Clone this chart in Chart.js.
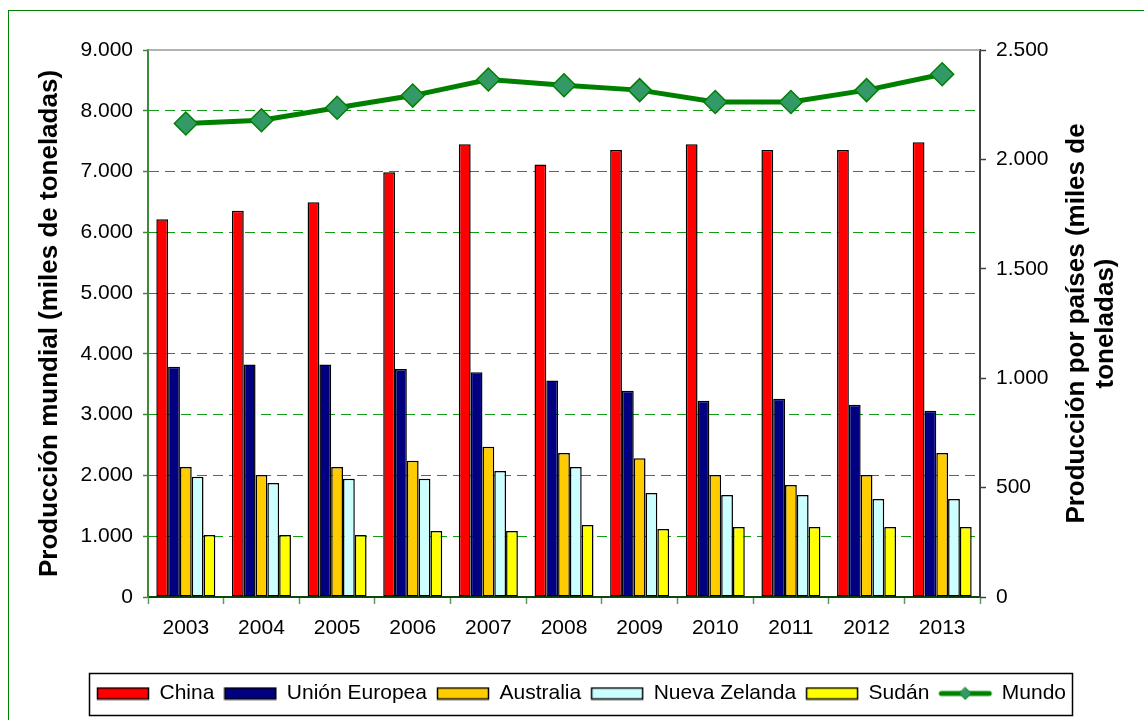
<!DOCTYPE html>
<html>
<head>
<meta charset="utf-8">
<script src="https://cdn.jsdelivr.net/npm/chart.js@4.4.1/dist/chart.umd.min.js"></script>
<style>
  body { margin: 0; background: #fff; }
  #chart { display: block; }
</style>
</head>
<body>
<canvas id="chart" width="1144" height="720"></canvas>
<script>
const years = ['2003', '2004', '2005', '2006', '2007', '2008', '2009', '2010', '2011', '2012', '2013'];
const china = [1727, 1765, 1804, 1941, 2069, 1977, 2043, 2069, 2043, 2043, 2078];
const unionEuropea = [1052, 1063, 1063, 1042, 1027, 990, 943, 897, 906, 879, 851];
const australia = [594, 558, 594, 623, 687, 658, 634, 558, 512, 558, 658];
const nuevaZelanda = [550, 521, 541, 541, 576, 594, 475, 466, 466, 448, 448];
const sudan = [283, 283, 283, 302, 302, 329, 311, 320, 320, 320, 320];
const mundo = [7790, 7845, 8050, 8250, 8515, 8420, 8340, 8145, 8145, 8340, 8600];

const FONT = 'Arial, "Liberation Sans", sans-serif';
const PAD_BOTTOM = 6;

function formatMiles(v) {
  return String(v).replace(/\B(?=(\d{3})+(?!\d))/g, '.');
}

function swatch(fill) {
  const c = document.createElement('canvas');
  c.width = 54;
  c.height = 14;
  const ctx = c.getContext('2d');
  ctx.fillStyle = fill;
  ctx.fillRect(1, 1, 52, 12);
  ctx.strokeStyle = '#000';
  ctx.lineWidth = 1.5;
  ctx.strokeRect(1.5, 1.5, 51, 11);
  return c;
}

function lineIcon() {
  const c = document.createElement('canvas');
  c.width = 56;
  c.height = 16;
  const ctx = c.getContext('2d');
  ctx.strokeStyle = '#008000';
  ctx.lineWidth = 5;
  ctx.lineCap = 'round';
  ctx.beginPath();
  ctx.moveTo(4, 8);
  ctx.lineTo(52, 8);
  ctx.stroke();
  ctx.beginPath();
  ctx.moveTo(28, 2);
  ctx.lineTo(34, 8);
  ctx.lineTo(28, 14);
  ctx.lineTo(22, 8);
  ctx.closePath();
  ctx.fillStyle = '#339966';
  ctx.fill();
  ctx.lineWidth = 1;
  ctx.stroke();
  return c;
}

const barColors = ['#ff0000', '#000080', '#ffcc00', '#ccffff', '#ffff00'];
const legendIcons = barColors.map(swatch).concat([lineIcon()]);

function barSet(label, data, color) {
  return {
    label: label,
    data: data,
    backgroundColor: color,
    borderColor: '#000',
    borderWidth: 1.5,
    borderSkipped: false,
    yAxisID: 'y1',
    order: 1,
    barPercentage: 1,
    categoryPercentage: 0.78,
  };
}

const decorations = {
  id: 'decorations',
  beforeDraw(chart) {
    const ctx = chart.ctx;
    ctx.save();
    ctx.fillStyle = '#fff';
    ctx.fillRect(0, 0, chart.width, chart.height);
    ctx.strokeStyle = '#008000';
    ctx.lineWidth = 1;
    ctx.strokeRect(8.5, 10.5, chart.width + 20, chart.height + 20);
    ctx.restore();
  },
  afterDraw(chart) {
    const ctx = chart.ctx;
    const area = chart.chartArea;
    ctx.save();
    // borde superior del área de trazado
    ctx.strokeStyle = '#999';
    ctx.lineWidth = 1.5;
    ctx.beginPath();
    ctx.moveTo(area.left, area.top);
    ctx.lineTo(area.right, area.top);
    ctx.stroke();

    const midY = (area.top + area.bottom) / 2;
    ctx.fillStyle = '#000';
    ctx.font = 'bold 26px ' + FONT;
    ctx.textAlign = 'center';
    ctx.textBaseline = 'middle';
    ctx.translate(50, midY);
    ctx.rotate(-Math.PI / 2);
    ctx.fillText('Producción mundial (miles de toneladas)', 0, 0);
    ctx.restore();

    ctx.save();
    ctx.fillStyle = '#000';
    ctx.font = 'bold 26px ' + FONT;
    ctx.textAlign = 'center';
    ctx.textBaseline = 'middle';
    ctx.translate(1077, midY);
    ctx.rotate(-Math.PI / 2);
    ctx.fillText('Producción por países (miles de', 0, 0);
    ctx.fillText('toneladas)', 0, 29);
    ctx.restore();

    // marco de la leyenda
    const boxes = chart.legend.legendHitBoxes;
    if (boxes && boxes.length) {
      const left = Math.min(...boxes.map((b) => b.left)) - 8;
      const right = Math.max(...boxes.map((b) => b.left + b.width)) + 6;
      const cy = boxes[0].top + boxes[0].height / 2;
      ctx.save();
      ctx.strokeStyle = '#000';
      ctx.lineWidth = 1.5;
      ctx.strokeRect(Math.round(left) + 0.5, Math.round(cy - 21) + 0.5, Math.round(right - left), 42);
      ctx.restore();
    }
  },
};

const ctx = document.getElementById('chart').getContext('2d');
new Chart(ctx, {
  type: 'bar',
  data: {
    labels: years,
    datasets: [
      barSet('China', china, barColors[0]),
      barSet('Unión Europea', unionEuropea, barColors[1]),
      barSet('Australia', australia, barColors[2]),
      barSet('Nueva Zelanda', nuevaZelanda, barColors[3]),
      barSet('Sudán', sudan, barColors[4]),
      {
        type: 'line',
        label: 'Mundo',
        data: mundo,
        yAxisID: 'y',
        order: 0,
        borderColor: '#008000',
        borderWidth: 5,
        tension: 0,
        pointStyle: 'rectRot',
        pointRadius: 11.5,
        pointBackgroundColor: '#339966',
        pointBorderColor: '#008000',
        pointBorderWidth: 1.5,
      },
    ],
  },
  options: {
    responsive: false,
    animation: false,
    devicePixelRatio: 1,
    layout: {
      padding: { left: 19, right: 0, top: 50, bottom: PAD_BOTTOM },
    },
    plugins: {
      title: { display: false },
      tooltip: { enabled: false },
      legend: {
        display: true,
        position: 'bottom',
        labels: {
          usePointStyle: true,
          pointStyleWidth: 52,
          padding: 10,
          color: '#000',
          font: { family: FONT, size: 21 },
          sort: (a, b) => a.datasetIndex - b.datasetIndex,
          generateLabels: (chart) => {
            const items = Chart.defaults.plugins.legend.labels.generateLabels(chart);
            items.forEach((item) => {
              item.pointStyle = legendIcons[item.datasetIndex];
            });
            return items;
          },
        },
      },
    },
    scales: {
      x: {
        grid: {
          offset: true,
          drawOnChartArea: false,
          drawTicks: true,
          tickLength: 7,
          tickColor: '#5a9a5a',
          tickWidth: 1.5,
        },
        border: { display: true, color: '#0a4a0a', width: 2 },
        ticks: {
          color: '#000',
          padding: 12,
          font: { family: FONT, size: 21 },
        },
        afterFit: (scale) => {
          scale.height = 720 - PAD_BOTTOM - scale.chart.legend.height - 597;
        },
      },
      y: {
        position: 'left',
        min: 0,
        max: 9000,
        grid: {
          color: (c) => (c.tick.value === 0 || c.tick.value === 9000 ? 'rgba(0,0,0,0)' : '#109a10'),
          lineWidth: 1,
          tickLength: 5,
          tickColor: '#3a8a3a',
          tickWidth: 1.5,
        },
        border: { display: true, color: '#3a8a3a', width: 2, dash: [10, 6] },
        ticks: {
          stepSize: 1000,
          color: '#000',
          padding: 10,
          font: { family: FONT, size: 21 },
          callback: (v) => formatMiles(v),
        },
        afterFit: (scale) => {
          scale.width = 129;
        },
      },
      y1: {
        position: 'right',
        min: 0,
        max: 2500,
        grid: {
          drawOnChartArea: false,
          tickLength: 6,
          tickColor: '#404040',
          tickWidth: 1.5,
        },
        border: { display: true, color: '#404040', width: 2 },
        ticks: {
          stepSize: 500,
          color: '#000',
          padding: 10,
          font: { family: FONT, size: 21 },
          callback: (v) => formatMiles(v),
        },
        afterFit: (scale) => {
          scale.width = 164;
        },
      },
    },
  },
  plugins: [decorations],
});
</script>
</body>
</html>
